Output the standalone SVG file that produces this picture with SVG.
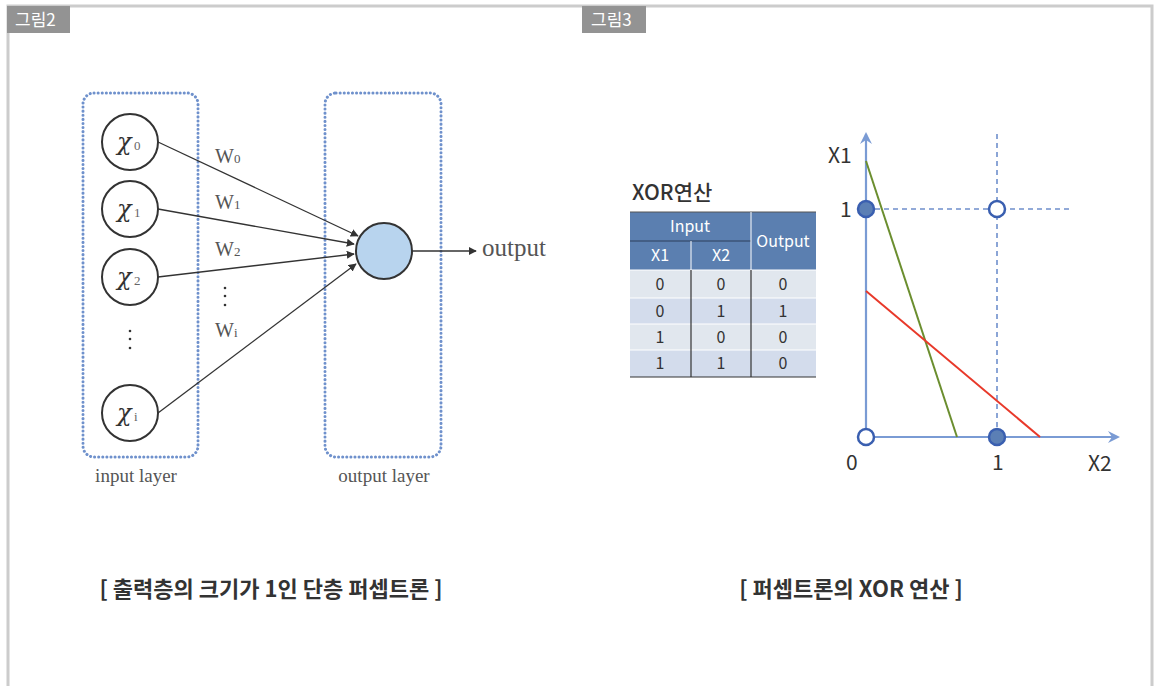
<svg xmlns="http://www.w3.org/2000/svg" width="1157" height="686" viewBox="0 0 1157 686">
<style>
.frame{fill:none;stroke:#cccccc;stroke-width:3}
.tag{fill:#939393}
.tagt{font-family:"Noto Sans CJK KR","Noto Sans",sans-serif;font-size:17px;fill:#ffffff}
.layer{fill:none;stroke:#6f91cc;stroke-width:3;stroke-dasharray:0.1 4;stroke-linecap:round}
.node{fill:#ffffff;stroke:#333333;stroke-width:2}
.out{fill:#b8d4ee;stroke:#333333;stroke-width:2}
.ser{font-family:"Liberation Serif","Times New Roman",serif;fill:#555555}
.chi{font-family:"DejaVu Serif","Liberation Serif",serif;font-style:italic;font-size:24px;fill:#333333}
.sub{font-family:"Liberation Serif",serif;font-size:13px;fill:#666666}
.conn{stroke:#333333;stroke-width:1.3;fill:none}
.cap{font-family:"Noto Sans CJK KR","Noto Sans",sans-serif;font-size:22px;font-weight:bold;fill:#333333}
.kt{font-family:"Noto Sans CJK KR","Noto Sans",sans-serif;fill:#333333}
.hd{font-family:"Noto Sans CJK KR","Noto Sans",sans-serif;font-size:16px;fill:#ffffff}
.cell{font-family:"Noto Sans CJK KR","Noto Sans",sans-serif;font-size:16px;fill:#333333}
.axis{stroke:#7a9bd4;stroke-width:2.2;fill:none}
.dash{stroke:#6f8fcc;stroke-width:1.6;stroke-dasharray:5 4;fill:none}
.pf{fill:#5b7fb5;stroke:#3a5fb0;stroke-width:2.5}
.ph{fill:#ffffff;stroke:#3a5fb0;stroke-width:2.5}
</style>
<defs>
<marker id="ah" viewBox="0 0 10 10" refX="9" refY="5" markerWidth="8" markerHeight="8" markerUnits="userSpaceOnUse" orient="auto">
<path d="M0,0 L10,5 L0,10 z" fill="#333333"/>
</marker>
<marker id="axh" viewBox="0 0 12 12" refX="10" refY="6" markerWidth="12" markerHeight="12" markerUnits="userSpaceOnUse" orient="auto">
<path d="M0,0 L12,6 L0,12 L4,6 z" fill="#7a9bd4"/>
</marker>
</defs>

<g id="frame">
<path class="frame" d="M8,686 V6 H1152 V686"/>
</g>

<g id="tag2">
<rect class="tag" x="7" y="6" width="63" height="27"/>
<text class="tagt" x="15" y="26">그림2</text>
</g>
<g id="tag3">
<rect class="tag" x="582" y="6" width="64" height="27"/>
<text class="tagt" x="591" y="26">그림3</text>
</g>

<g id="input-layer">
<rect class="layer" x="83" y="93" width="115" height="364" rx="11"/>
<text class="ser" x="136" y="482" font-size="19" text-anchor="middle">input layer</text>
</g>
<g id="output-layer">
<rect class="layer" x="325" y="93" width="116" height="364" rx="11"/>
<text class="ser" x="384" y="482" font-size="19" text-anchor="middle">output layer</text>
</g>

<g id="x0">
<circle class="node" cx="130" cy="142" r="28"/>
<text class="chi" x="117" y="150">χ</text><text class="sub" x="134" y="150">0</text>
</g>
<g id="x1">
<circle class="node" cx="130" cy="209" r="28"/>
<text class="chi" x="117" y="217">χ</text><text class="sub" x="134" y="217">1</text>
</g>
<g id="x2">
<circle class="node" cx="130" cy="277" r="28"/>
<text class="chi" x="117" y="285">χ</text><text class="sub" x="134" y="285">2</text>
</g>
<g id="xdots">
<circle cx="130" cy="331" r="1.3" fill="#333"/>
<circle cx="130" cy="339" r="1.3" fill="#333"/>
<circle cx="130" cy="348" r="1.3" fill="#333"/>
</g>
<g id="xi">
<circle class="node" cx="130" cy="413" r="28"/>
<text class="chi" x="117" y="421">χ</text><text class="sub" x="134" y="421">i</text>
</g>
<g id="neuron">
<circle class="out" cx="384" cy="251" r="28"/>
</g>
<g id="output-label">
<text class="ser" x="482" y="256" font-size="25">output</text>
</g>

<g id="connectors">
<line class="conn" x1="158" y1="142" x2="358" y2="236" marker-end="url(#ah)"/>
<line class="conn" x1="158" y1="209" x2="354" y2="244" marker-end="url(#ah)"/>
<line class="conn" x1="158" y1="277" x2="354" y2="254" marker-end="url(#ah)"/>
<line class="conn" x1="158" y1="413" x2="356" y2="264" marker-end="url(#ah)"/>
<line class="conn" x1="412" y1="251" x2="476" y2="251" marker-end="url(#ah)"/>
</g>

<g id="weights">
<text class="ser" x="215" y="163" font-size="20">W<tspan font-size="13">0</tspan></text>
<text class="ser" x="215" y="209" font-size="20">W<tspan font-size="13">1</tspan></text>
<text class="ser" x="215" y="256" font-size="20">W<tspan font-size="13">2</tspan></text>
<circle cx="225" cy="288" r="1.3" fill="#333"/>
<circle cx="225" cy="296" r="1.3" fill="#333"/>
<circle cx="225" cy="305" r="1.3" fill="#333"/>
<text class="ser" x="215" y="337" font-size="20">W<tspan font-size="13">i</tspan></text>
</g>

<g id="caption-left">
<text class="cap" x="271" y="597" text-anchor="middle">[ 출력층의 크기가 1인 단층 퍼셉트론 ]</text>
</g>

<g id="xor-table">
<text class="kt" x="632" y="200" font-size="21" font-weight="500">XOR연산</text>
<rect x="630" y="212" width="186" height="58" fill="#5b7fb0"/>
<rect x="630" y="270" width="186" height="28" fill="#e1e7ee"/>
<rect x="630" y="298" width="186" height="26" fill="#d3dcec"/>
<rect x="630" y="324" width="186" height="26" fill="#e1e7ee"/>
<rect x="630" y="350" width="186" height="27" fill="#d3dcec"/>
<line x1="630" y1="212" x2="816" y2="212" stroke="#555" stroke-width="1"/>
<line x1="630" y1="241" x2="751" y2="241" stroke="#2c3e5a" stroke-width="1"/>
<line x1="630" y1="270" x2="816" y2="270" stroke="#ffffff" stroke-width="1"/>
<line x1="630" y1="298" x2="816" y2="298" stroke="#ffffff" stroke-width="1"/>
<line x1="630" y1="324" x2="816" y2="324" stroke="#ffffff" stroke-width="1"/>
<line x1="630" y1="350" x2="816" y2="350" stroke="#ffffff" stroke-width="1"/>
<line x1="691" y1="241" x2="691" y2="270" stroke="#ffffff" stroke-width="1"/>
<line x1="751" y1="212" x2="751" y2="270" stroke="#ffffff" stroke-width="1"/>
<line x1="691" y1="270" x2="691" y2="377" stroke="#333" stroke-width="1.2"/>
<line x1="751" y1="270" x2="751" y2="377" stroke="#333" stroke-width="1.2"/>
<line x1="630" y1="377" x2="816" y2="377" stroke="#333" stroke-width="1.2"/>
<text class="hd" x="690" y="232" text-anchor="middle">Input</text>
<text class="hd" x="660" y="261" text-anchor="middle">X1</text>
<text class="hd" x="721" y="261" text-anchor="middle">X2</text>
<text class="hd" x="783" y="247" text-anchor="middle">Output</text>
<text class="cell" x="660" y="290" text-anchor="middle">0</text>
<text class="cell" x="721" y="290" text-anchor="middle">0</text>
<text class="cell" x="783" y="290" text-anchor="middle">0</text>
<text class="cell" x="660" y="317" text-anchor="middle">0</text>
<text class="cell" x="721" y="317" text-anchor="middle">1</text>
<text class="cell" x="783" y="317" text-anchor="middle">1</text>
<text class="cell" x="660" y="343" text-anchor="middle">1</text>
<text class="cell" x="721" y="343" text-anchor="middle">0</text>
<text class="cell" x="783" y="343" text-anchor="middle">0</text>
<text class="cell" x="660" y="369" text-anchor="middle">1</text>
<text class="cell" x="721" y="369" text-anchor="middle">1</text>
<text class="cell" x="783" y="369" text-anchor="middle">0</text>
</g>

<g id="xor-plot">
<line class="dash" x1="866" y1="209" x2="1070" y2="209"/>
<line class="dash" x1="997" y1="134" x2="997" y2="437"/>
<line class="axis" x1="866" y1="437" x2="866" y2="134" marker-end="url(#axh)"/>
<line class="axis" x1="866" y1="437" x2="1118" y2="437" marker-end="url(#axh)"/>
<line x1="866" y1="161" x2="957" y2="437" stroke="#6b8e2f" stroke-width="2"/>
<line x1="866" y1="291" x2="1040" y2="437" stroke="#e8392a" stroke-width="2"/>
<circle class="ph" cx="866" cy="437" r="8"/>
<circle class="pf" cx="997" cy="437" r="8"/>
<circle class="pf" cx="866" cy="209" r="8"/>
<circle class="ph" cx="997" cy="209" r="8"/>
<text class="kt" x="828" y="163" font-size="21">X1</text>
<text class="kt" x="840" y="217" font-size="21">1</text>
<text class="kt" x="846" y="470" font-size="21">0</text>
<text class="kt" x="992" y="470" font-size="21">1</text>
<text class="kt" x="1088" y="471" font-size="21">X2</text>
</g>

<g id="caption-right">
<text class="cap" x="851" y="597" text-anchor="middle">[ 퍼셉트론의 XOR 연산 ]</text>
</g>
</svg>
